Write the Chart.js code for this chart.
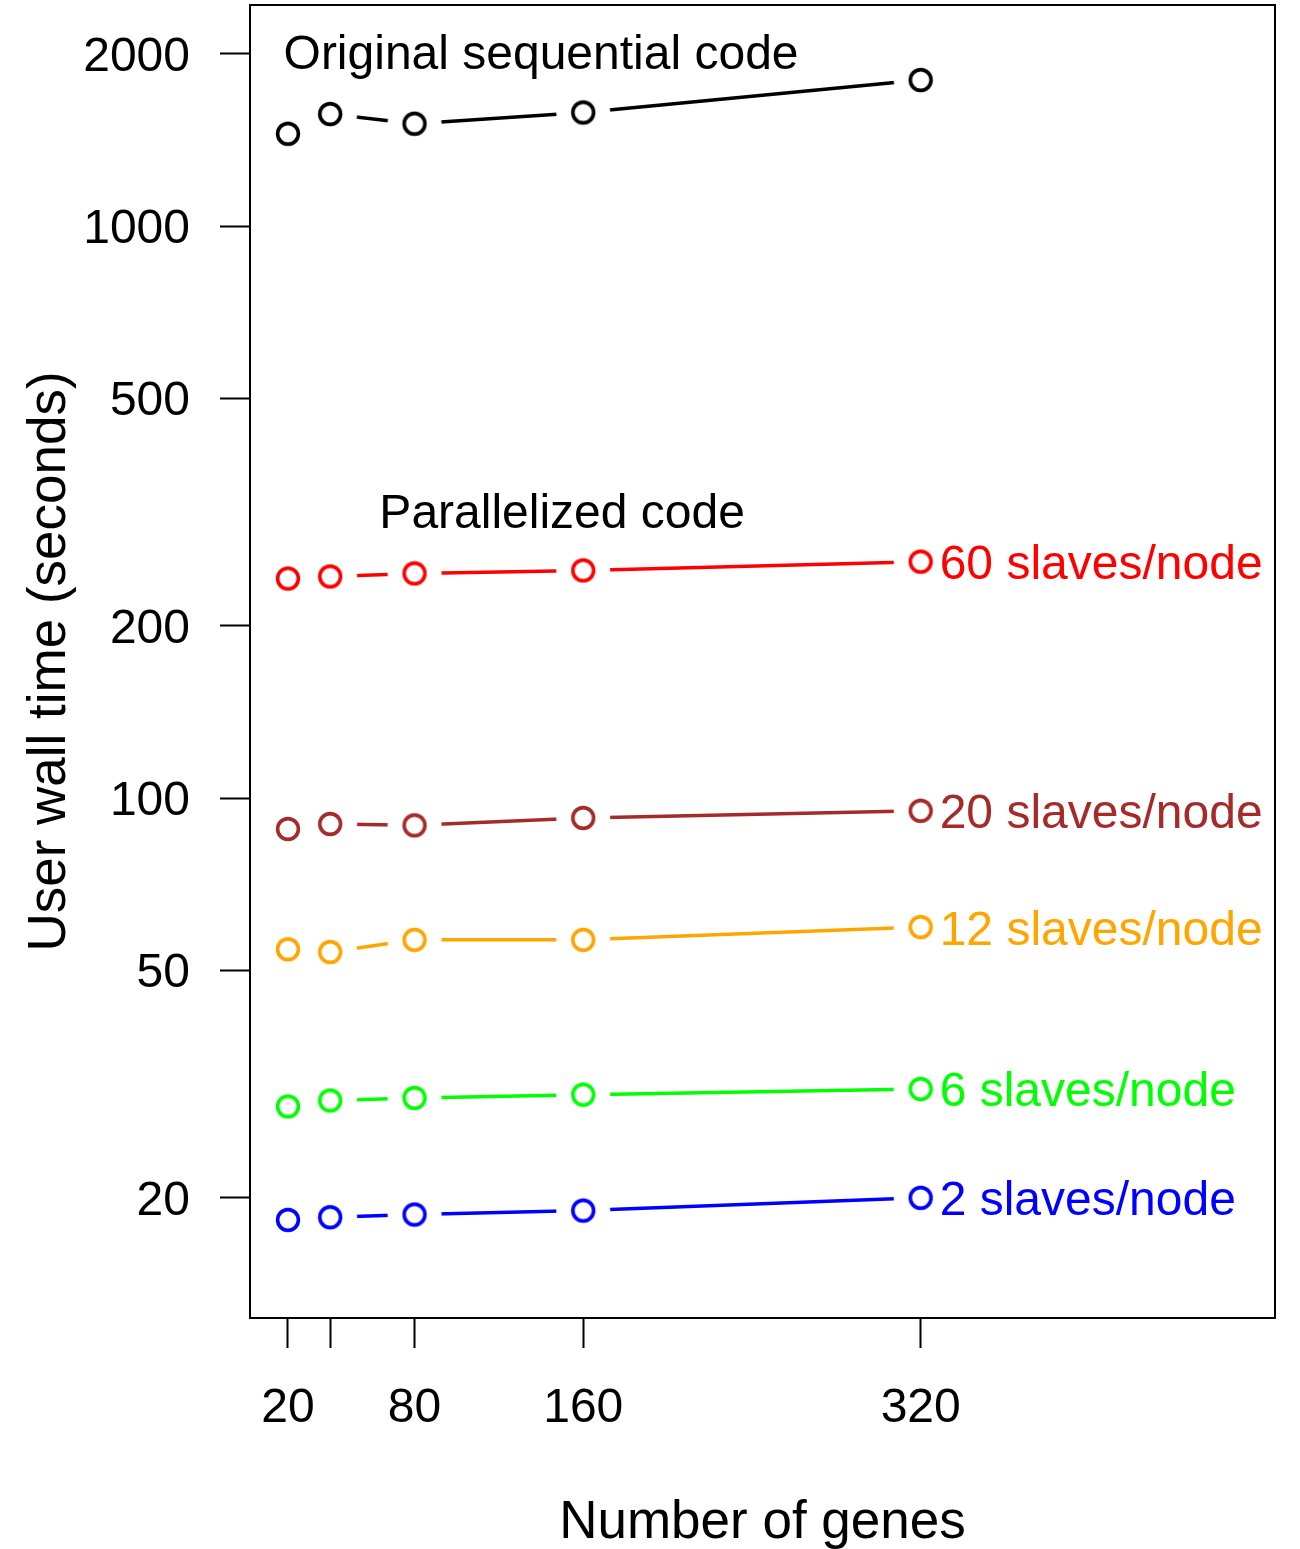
<!DOCTYPE html>
<html>
<head>
<meta charset="utf-8">
<script src="https://cdn.jsdelivr.net/npm/chart.js@4.4.1/dist/chart.umd.min.js"></script>
<style>
  body { margin: 0; background: #fff; }
  canvas { display: block; }
</style>
</head>
<body>
<canvas id="timeChart" width="1300" height="1549"></canvas>
<script>
// number of genes (x) and wall times (seconds)
const genes = [20, 40, 80, 160, 320];
const sequential = [1450, 1570, 1510, 1580, 1800];
const slaves60 = [242, 244, 247, 250, 259];
const slaves20 = [88.3, 90.1, 89.6, 92.3, 95.0];
const slaves12 = [54.4, 53.8, 56.5, 56.5, 59.5];
const slaves6 = [28.9, 29.6, 29.9, 30.3, 31.0];
const slaves2 = [18.3, 18.5, 18.7, 19.0, 20.0];

const seriesNames = ['Original sequential code', '60 slaves/node', '20 slaves/node',
    '12 slaves/node', '6 slaves/node', '2 slaves/node'];
const seriesColors = ['#000000', '#FF0000', '#A52A2A', '#FFA500', '#00FF00', '#0000FF'];
const seriesValues = [sequential, slaves60, slaves20, slaves12, slaves6, slaves2];

const xTicks = [20, 40, 80, 160, 320];
const xTickLabels = ['20', '', '80', '160', '320'];
const yTicks = [20, 50, 100, 200, 500, 1000, 2000];

// free text annotations (text, x, y in data units)
const noteTexts = ['Original sequential code', 'Parallelized code'];
const noteX = [140, 150];
const noteY = [2020, 318];

const FONT = "'Liberation Sans', Arial, sans-serif";

// open circle with a white halo so the line stops short of the point (like R type="b")
function makeMarker(color) {
    const c = document.createElement('canvas');
    c.width = 60;
    c.height = 60;
    const g = c.getContext('2d');
    g.fillStyle = '#ffffff';
    g.beginPath();
    g.arc(30, 30, 27, 0, Math.PI * 2);
    g.fill();
    g.strokeStyle = color;
    g.lineWidth = 3.6;
    g.beginPath();
    g.arc(30, 30, 10.4, 0, Math.PI * 2);
    g.stroke();
    return c;
}

const labelsPlugin = {
    id: 'labels',
    afterDraw(chart) {
        const ctx = chart.ctx;
        const a = chart.chartArea;
        const xs = chart.scales.x;
        const ys = chart.scales.y;
        ctx.save();
        // plot box
        ctx.strokeStyle = '#000';
        ctx.lineWidth = 2;
        ctx.strokeRect(a.left, a.top, a.right - a.left, a.bottom - a.top);

        // text is centred on its cap height, like R does
        ctx.font = '48px ' + FONT;
        ctx.textBaseline = 'alphabetic';
        const half = 17.5;
        ctx.textAlign = 'left';
        for (let i = 1; i < seriesValues.length; i++) {
            const vals = seriesValues[i];
            const px = xs.getPixelForValue(genes[genes.length - 1]) + 19;
            const py = ys.getPixelForValue(vals[vals.length - 1]);
            ctx.fillStyle = seriesColors[i];
            ctx.fillText(seriesNames[i], px, py + half);
        }
        ctx.textAlign = 'center';
        ctx.fillStyle = '#000';
        for (let i = 0; i < noteTexts.length; i++) {
            ctx.fillText(noteTexts[i], xs.getPixelForValue(noteX[i]), ys.getPixelForValue(noteY[i]) + half);
        }
        ctx.restore();
    }
};

const ctx = document.getElementById('timeChart').getContext('2d');

new Chart(ctx, {
    type: 'line',
    data: {
        datasets: seriesValues.map((vals, i) => ({
            label: seriesNames[i],
            data: genes.map((g, j) => ({ x: g, y: vals[j] })),
            borderColor: seriesColors[i],
            borderWidth: 3.5,
            borderCapStyle: 'round',
            tension: 0,
            pointStyle: makeMarker(seriesColors[i]),
            pointRadius: 10,
            pointHoverRadius: 10
        }))
    },
    options: {
        responsive: false,
        animation: false,
        events: [],
        layout: { autoPadding: false, padding: { top: 5, right: 25, left: 0, bottom: 0 } },
        plugins: {
            legend: { display: false },
            tooltip: { enabled: false }
        },
        scales: {
            x: {
                type: 'linear',
                min: 2,
                max: 488,
                afterBuildTicks: (scale) => {
                    scale.ticks = xTicks.map(v => ({ value: v }));
                },
                afterFit: (scale) => {
                    scale.height = 231;
                    scale.paddingLeft = 0;
                    scale.paddingRight = 0;
                },
                grid: {
                    drawOnChartArea: false,
                    drawTicks: true,
                    tickLength: 30,
                    tickColor: '#000',
                    tickWidth: 2
                },
                border: { display: false },
                ticks: {
                    padding: 32,
                    maxRotation: 0,
                    autoSkip: false,
                    color: '#000',
                    font: { family: FONT, size: 48 },
                    callback: (value) => xTickLabels[xTicks.indexOf(value)]
                },
                title: {
                    display: true,
                    text: 'Number of genes',
                    color: '#000',
                    font: { family: FONT, size: 53, lineHeight: 1 },
                    padding: { top: 0, bottom: -0.5 }
                }
            },
            y: {
                type: 'logarithmic',
                min: 12.33,
                max: 2435,
                afterBuildTicks: (scale) => {
                    scale.ticks = yTicks.map(v => ({ value: v }));
                },
                afterFit: (scale) => {
                    scale.width = 250;
                    scale.paddingTop = 0;
                    scale.paddingBottom = 0;
                },
                grid: {
                    drawOnChartArea: false,
                    drawTicks: true,
                    tickLength: 30,
                    tickColor: '#000',
                    tickWidth: 2
                },
                border: { display: false },
                ticks: {
                    padding: 30,
                    autoSkip: false,
                    color: '#000',
                    // empty first line nudges the number down a few px, as in the original
                    font: { family: FONT, size: 48, lineHeight: '8px' },
                    callback: (value) => ['', String(value)]
                },
                title: {
                    display: true,
                    text: 'User wall time (seconds)',
                    color: '#000',
                    font: { family: FONT, size: 53, lineHeight: 1 },
                    padding: { top: 24, bottom: 0 }
                }
            }
        }
    },
    plugins: [labelsPlugin]
});
</script>
</body>
</html>
